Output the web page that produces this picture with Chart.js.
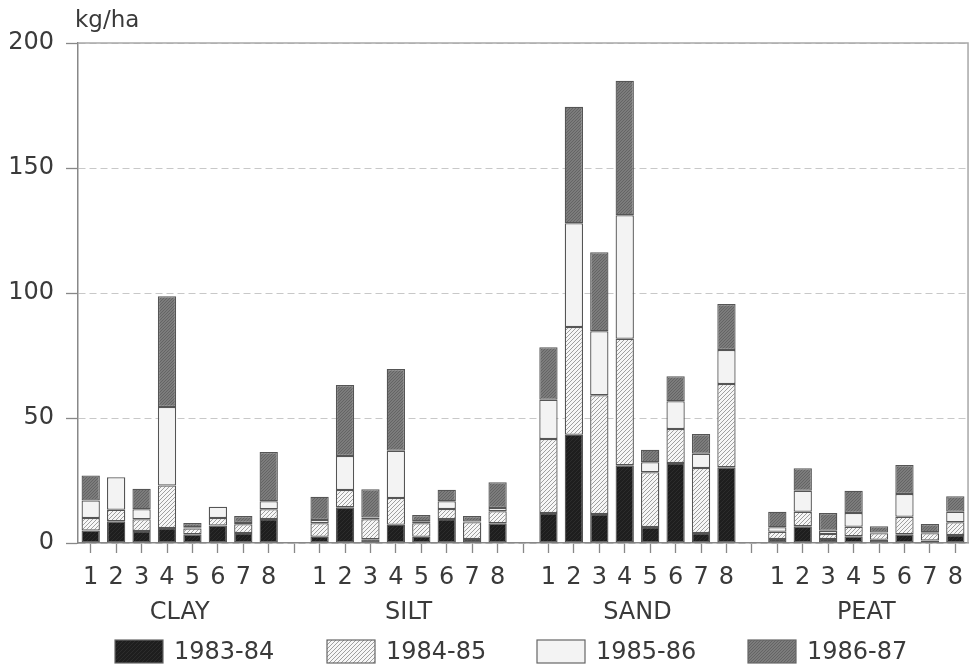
<!DOCTYPE html>
<html>
<head>
<meta charset="utf-8">
<script src="https://cdn.jsdelivr.net/npm/chart.js@4.4.1/dist/chart.umd.min.js"></script>
<style>
  html, body { margin: 0; padding: 0; background: #fff; }
  #wrap { width: 973px; height: 669px; }
</style>
</head>
<body>
<div id="wrap"><canvas id="soilChart" width="973" height="669"></canvas></div>
<script>
// soil groups, 8 sites each
const groups = ['CLAY', 'SILT', 'SAND', 'PEAT'];
const sites = ['1', '2', '3', '4', '5', '6', '7', '8'];
const seasons = ['1983-84', '1984-85', '1985-86', '1986-87'];

// kg/ha per season, 8 values per soil group (CLAY, SILT, SAND, PEAT)
const s1983 = [5, 8.7, 4.8, 6, 3.5, 7, 4, 9.6,
               2.5, 14.3, 1.5, 7.3, 2.5, 9.6, 1.6, 7.9,
               12, 43.3, 11.6, 31.1, 6.4, 32, 4, 30.3,
               1.6, 6.7, 1.6, 2.7, 1.3, 3.5, 1, 3.2];
const s1984 = [5, 4.6, 4.7, 17, 2.3, 3, 3.5, 3.9,
               5.4, 6.9, 8, 10.7, 5.4, 4, 6.7, 4.8,
               29.6, 43.1, 47.5, 50.6, 21.9, 13.6, 26, 33.3,
               2.9, 5.8, 2, 3.8, 2.6, 7, 2.9, 5.1];
const s1985 = [7, 13, 4, 31.4, 0.5, 4.5, 0.5, 3.2,
               1.3, 13.6, 0.7, 18.9, 0.8, 3.1, 0.3, 1.3,
               15.7, 41.5, 25.6, 49.4, 4, 11.1, 5.7, 13.6,
               1.8, 8.4, 1.3, 5.5, 0.3, 9.1, 0.4, 4.2];
const s1986 = [10, 0, 8.2, 44.3, 1.7, 0, 2.8, 19.7,
               9.3, 28.4, 11.3, 32.7, 2.5, 4.6, 2.2, 10.3,
               21, 46.6, 31.6, 53.8, 5, 10, 7.9, 18.4,
               6.2, 9, 7.1, 8.9, 2.5, 11.6, 3.3, 6.2];
const yTicks = [0, 50, 100, 150, 200];

const FONT = '"DejaVu Sans", sans-serif';
const INK = '#3a3a3a';

// spread the 32 values over 35 slots, one empty slot between groups
function withGaps(arr) {
  const out = [];
  groups.forEach((g, gi) => {
    if (gi > 0) out.push(null);
    for (let i = 0; i < sites.length; i++) out.push(arr[gi * sites.length + i]);
  });
  return out;
}
const labels = withGaps(groups.flatMap(() => sites)).map(v => v || '');

function makePattern(bg, line, step, width) {
  const c = document.createElement('canvas');
  c.width = step; c.height = step;
  const g = c.getContext('2d');
  g.fillStyle = bg;
  g.fillRect(0, 0, step, step);
  if (line) {
    g.strokeStyle = line;
    g.lineWidth = width;
    g.beginPath();
    for (let k = -1; k <= 1; k++) {
      g.moveTo(k * step, step);
      g.lineTo(k * step + step, 0);
    }
    g.stroke();
  }
  return g.createPattern(c, 'repeat');
}

const fills = [
  makePattern('#1e1e1e', '#2c2c2c', 4, 1),
  makePattern('#f6f6f6', '#959595', 4, 0.9),
  makePattern('#f3f3f3', null, 4, 1),
  makePattern('#7c7c7c', '#646464', 3, 1)
];

const seriesData = [s1983, s1984, s1985, s1986];

const groupLabels = {
  id: 'groupLabels',
  afterDraw(chart) {
    const ctx = chart.ctx;
    const x = chart.scales.x;
    const area = chart.chartArea;
    ctx.save();
    // frame top and right
    ctx.strokeStyle = '#a8a8a8';
    ctx.lineWidth = 1.5;
    ctx.beginPath();
    ctx.moveTo(area.left, area.top);
    ctx.lineTo(area.right, area.top);
    ctx.lineTo(area.right, area.bottom);
    ctx.stroke();

    ctx.fillStyle = INK;
    ctx.font = '24px ' + FONT;
    ctx.textAlign = 'center';
    ctx.textBaseline = 'middle';
    groups.forEach((g, gi) => {
      const first = gi * (sites.length + 1);
      const last = first + sites.length - 1;
      const cx = (x.getPixelForValue(first) + x.getPixelForValue(last)) / 2;
      ctx.fillText(g, cx, 613);
    });

    // unit label
    ctx.font = '23px ' + FONT;
    ctx.textAlign = 'left';
    ctx.textBaseline = 'alphabetic';
    ctx.fillText('kg/ha', 75, 27);

    // legend
    const boxX = [115, 327, 537, 748];
    ctx.font = '24px ' + FONT;
    ctx.textBaseline = 'middle';
    seasons.forEach((s, i) => {
      ctx.fillStyle = fills[i];
      ctx.fillRect(boxX[i], 640, 48, 23);
      ctx.strokeStyle = '#666';
      ctx.lineWidth = 1.2;
      ctx.strokeRect(boxX[i], 640, 48, 23);
      ctx.fillStyle = INK;
      ctx.fillText(s, boxX[i] + 59, 653);
    });
    ctx.restore();
  }
};

const ctx = document.getElementById('soilChart').getContext('2d');
new Chart(ctx, {
  type: 'bar',
  data: {
    labels: labels,
    datasets: seasons.map((s, i) => ({
      label: s,
      data: withGaps(seriesData[i]),
      backgroundColor: fills[i],
      borderColor: '#555',
      borderWidth: 1.3,
      borderSkipped: false,
      categoryPercentage: 1,
      barPercentage: 0.72
    }))
  },
  options: {
    responsive: false,
    animation: false,
    layout: { padding: { top: 43, right: 3, left: 0, bottom: 0 } },
    plugins: {
      legend: { display: false },
      tooltip: { enabled: false }
    },
    scales: {
      x: {
        stacked: true,
        grid: {
          offset: false,
          drawOnChartArea: false,
          drawTicks: true,
          tickLength: 10,
          tickColor: '#888',
          tickWidth: 1.3
        },
        border: { color: '#888', width: 1.5 },
        ticks: {
          autoSkip: false,
          maxRotation: 0,
          padding: 10,
          color: INK,
          font: { family: FONT, size: 24 }
        },
        afterFit(scale) { scale.height = 126; }
      },
      y: {
        stacked: true,
        min: 0,
        max: 200,
        afterBuildTicks(scale) { scale.ticks = yTicks.map(v => ({ value: v })); },
        grid: {
          color: '#c8c8c8',
          lineWidth: 1,
          tickLength: 12,
          tickColor: '#888',
          tickWidth: 1.3
        },
        border: { color: '#888', width: 1.5, dash: [7, 4] },
        ticks: {
          padding: 12,
          color: INK,
          font: { family: FONT, size: 24 }
        },
        afterFit(scale) { scale.width = 78; }
      }
    }
  },
  plugins: [groupLabels]
});
</script>
</body>
</html>
